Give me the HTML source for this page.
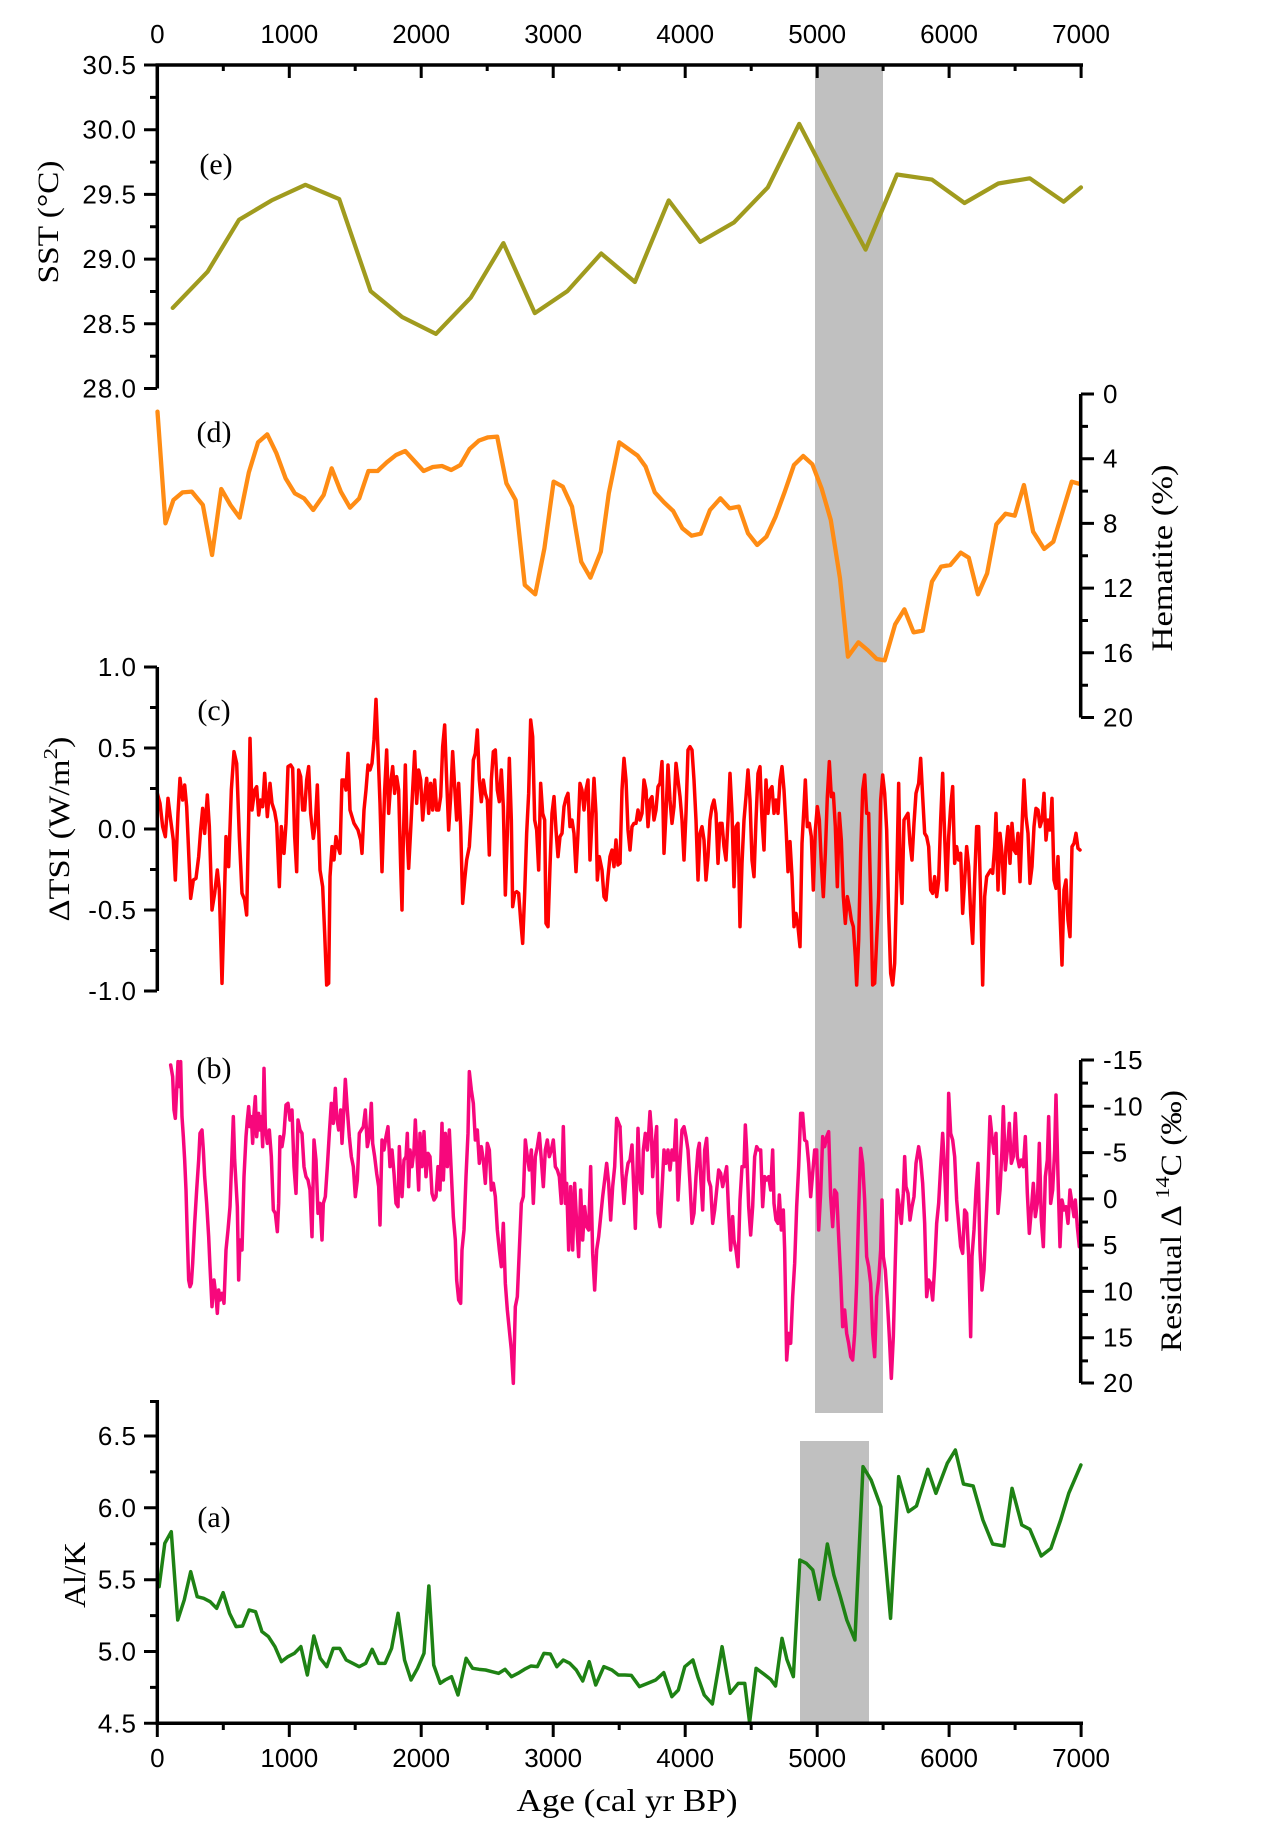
<!DOCTYPE html>
<html><head><meta charset="utf-8"><style>
html,body{margin:0;padding:0;background:#fff;}
svg{display:block;}
.tk{font-family:"Liberation Sans",Arial,sans-serif;font-size:26px;fill:#000;}
.sp{letter-spacing:1px;}
.tt{font-family:"Liberation Serif","Times New Roman",serif;fill:#000;}
.ax{stroke:#000;stroke-width:3.5;fill:none;stroke-linecap:butt;}
.tc{stroke:#000;stroke-width:3;fill:none;}
.ln{fill:none;stroke-linejoin:round;stroke-linecap:round;}
</style></head><body>
<svg width="1269" height="1828" viewBox="0 0 1269 1828" xmlns="http://www.w3.org/2000/svg">
<rect width="1269" height="1828" fill="#fff"/>
<!-- gray bands -->
<rect x="815" y="65" width="68" height="1348" fill="#c0c0c0"/>
<rect x="800" y="1441" width="69" height="282" fill="#c0c0c0"/>

<!-- (e) SST -->
<polyline class="ln" stroke="#a09b1e" stroke-width="4.2" points="172.7,307.9 207.6,271.7 239.0,219.8 271.6,200.4 305.4,184.8 339.2,199.1 370.6,291.1 402.1,317.0 435.9,333.9 470.8,297.6 503.4,243.1 534.8,313.1 567.4,291.1 601.2,253.5 634.9,282.0 668.7,200.4 700.1,241.9 734.0,222.4 767.8,187.4 799.2,123.9 834.2,191.3 865.6,249.6 897.0,174.5 931.9,179.6 964.5,203.0 998.3,183.5 1029.8,178.3 1063.6,201.7 1081,187.4"/>

<!-- (d) Hematite -->
<g transform="translate(148.9,385) scale(0.6132,0.33333)">
<polyline class="ln" stroke="#ff8c14" stroke-width="4.3" vector-effect="non-scaling-stroke" points="14,80 27,415 40,345 55,322 70,320 88,360 103,510 118,312 133,360 148,398 163,262 178,172 193,148 208,205 223,280 238,325 253,340 268,375 285,330 298,250 313,320 328,368 343,340 358,258 373,258 388,232 403,210 418,198 433,228 448,258 463,246 478,243 493,255 508,240 523,192 538,167 553,157 568,155 583,295 598,345 613,600 630,628 645,490 660,290 675,305 690,365 705,530 720,578 737,500 750,325 767,172 782,192 797,212 810,245 825,322 840,352 855,378 870,430 885,452 900,446 915,375 932,340 947,370 962,365 977,445 992,480 1007,455 1022,395 1037,320 1052,240 1067,213 1082,238 1097,310 1112,405 1127,580 1140,815 1157,772 1172,795 1187,822 1200,826 1217,718 1232,673 1247,742 1262,737 1277,590 1292,545 1307,540 1324,503 1337,518 1352,628 1367,565 1382,418 1397,386 1412,392 1427,300 1442,440 1460,492 1475,470 1490,380 1505,290 1518,297"/>
</g>

<!-- (c) TSI -->
<g transform="translate(150,680) scale(0.33333)">
<polyline class="ln" stroke="#ff0000" stroke-width="3.5" vector-effect="non-scaling-stroke" points="22,340 30,370 38,440 46,470 54,355 62,420 70,480 76,600 84,400 90,295 98,360 104,315 110,380 114,470 122,655 130,600 138,595 146,530 152,450 158,385 164,460 172,345 178,440 186,690 194,640 202,570 208,630 216,910 222,700 228,470 236,560 244,330 252,215 260,250 268,470 276,640 284,660 290,705 296,420 300,175 306,390 314,330 320,320 326,405 332,360 338,380 344,280 352,410 360,310 366,370 374,395 380,430 388,620 394,440 402,520 408,430 414,260 422,255 428,265 434,470 440,575 446,270 452,290 458,390 464,390 470,300 476,260 482,400 490,475 496,430 502,315 510,570 518,620 524,760 530,915 536,910 540,590 546,500 552,540 558,470 564,500 570,520 576,300 582,300 588,330 594,220 600,390 606,410 612,430 618,440 624,450 632,480 636,520 642,390 648,330 654,255 660,270 666,250 672,180 678,58 684,210 690,370 696,575 704,330 710,210 716,400 722,310 728,260 734,340 740,290 746,330 752,560 756,690 760,480 766,255 770,440 776,565 782,450 788,330 794,215 800,370 806,270 812,300 818,420 824,350 830,295 836,400 842,310 848,390 854,300 860,390 866,390 872,350 878,200 884,135 890,300 896,450 902,350 908,215 914,320 920,420 926,310 932,440 938,670 944,600 950,540 958,500 964,400 970,240 976,220 982,150 988,300 994,365 1000,300 1006,340 1012,360 1018,525 1024,300 1030,215 1036,210 1042,330 1048,365 1054,270 1060,380 1066,645 1072,460 1078,235 1084,420 1088,680 1094,640 1100,635 1106,640 1112,720 1118,790 1124,640 1130,460 1136,340 1142,120 1148,170 1154,420 1160,450 1166,570 1172,310 1178,400 1184,420 1188,730 1194,740 1200,560 1206,400 1212,350 1218,450 1224,530 1230,470 1236,460 1242,380 1248,355 1254,340 1260,440 1266,420 1272,460 1278,575 1284,460 1290,310 1296,330 1302,390 1308,330 1314,300 1320,540 1326,420 1332,295 1338,400 1342,600 1348,530 1356,570 1362,650 1368,660 1374,590 1380,530 1386,510 1392,560 1398,480 1404,555 1410,548"/>
</g>
<g transform="translate(620,680) scale(0.33333)">
<polyline class="ln" stroke="#ff0000" stroke-width="3.5" vector-effect="non-scaling-stroke" points="0,550 6,330 12,235 18,300 24,450 30,510 36,440 42,430 48,430 54,390 60,420 66,400 72,300 78,330 84,440 90,360 96,350 102,420 108,390 114,320 120,310 126,245 132,520 138,400 144,255 150,360 156,430 162,380 168,250 174,300 180,350 186,420 192,540 198,400 204,210 210,200 216,210 222,300 228,420 234,600 240,460 246,440 252,480 258,600 264,530 270,420 276,380 282,360 288,400 294,550 300,430 306,430 312,500 318,540 324,420 330,280 336,400 342,620 348,440 354,430 360,740 366,550 372,420 378,350 384,270 390,360 396,540 402,590 408,420 414,280 420,260 426,420 432,510 438,300 444,400 450,330 456,320 462,400 468,360 474,400 480,300 486,260 492,330 498,440 504,575 510,485 516,590 522,740 528,700 534,740 540,800 546,490 552,380 556,300 562,440 568,430 574,470 580,630 586,450 592,380 598,420 604,550 610,650 616,520 622,350 628,245 634,350 640,340 646,440 652,620 658,400 664,480 670,650 676,730 682,650 688,680 694,720 700,740 706,830 710,915 716,780 722,520 728,330 734,285 740,400 746,400 752,650 758,915 764,910 770,780 776,650 782,360 788,285 794,340 800,450 806,700 812,880 818,915 824,850 830,610 836,310 840,540 846,670 852,420 858,410 864,400 870,490 876,540 882,430 888,340 896,310 902,235 908,350 914,460 920,470 926,500 932,630 938,640 944,590 950,650 956,600 962,420 968,280 974,470 980,630 986,470 992,380 998,320 1004,550 1010,500 1016,540 1022,520 1028,700 1034,600 1040,500 1046,560 1052,700 1058,790 1064,600 1070,440 1076,440 1082,650 1088,915 1094,650 1100,590 1106,580 1112,570 1118,580 1124,500 1128,400 1134,630 1140,460 1146,520 1152,640 1158,500 1164,440 1170,550 1176,430 1182,510 1188,520 1194,460 1200,605 1206,440 1212,300 1218,410 1224,460 1230,610 1236,560 1242,440 1248,385 1254,390 1260,440 1266,420 1272,340 1278,480 1284,420 1290,450 1296,355 1302,600 1308,625 1314,530 1320,700 1326,855 1332,630 1338,600 1344,720 1350,770 1356,500 1362,490 1368,460 1374,505 1380,510"/>
</g>

<!-- (b) D14C -->
<g transform="translate(150,1050) scale(0.33333)">
<polyline class="ln" stroke="#f7077c" stroke-width="3.5" vector-effect="non-scaling-stroke" points="62,45 68,80 72,180 76,205 80,120 84,35 88,110 92,35 96,200 100,260 104,330 108,420 112,560 116,690 120,710 124,700 128,640 134,520 140,420 146,330 150,250 156,240 160,300 164,380 170,460 176,560 180,650 186,770 192,690 198,740 202,790 206,720 210,750 216,730 222,760 228,600 234,540 240,470 246,310 250,200 254,330 258,400 262,470 266,690 270,570 276,600 282,380 288,260 292,210 296,170 300,230 304,200 308,280 312,190 316,140 320,260 326,190 330,240 334,200 338,290 342,55 346,230 352,280 358,240 364,320 370,480 376,490 382,545 386,460 390,260 396,290 402,250 408,165 414,160 420,210 426,180 432,350 438,430 444,210 450,240 456,250 462,350 468,380 474,390 480,420 486,560 492,270 498,330 504,490 510,460 516,570 520,460 526,440 532,350 538,250 544,160 550,220 556,115 560,200 566,240 572,180 576,280 580,210 586,88 592,180 598,260 604,320 610,350 616,440 622,390 628,250 634,240 640,230 646,180 652,290 658,260 664,160 668,280 674,320 680,370 686,410 690,525 696,270 702,300 708,260 714,230 720,350 726,300 732,370 738,460 744,470 748,290 752,380 756,440 762,330 768,320 772,250 776,410 780,300 786,350 792,300 796,210 800,300 806,420 810,250 816,350 822,245 828,380 834,310 840,320 846,430 852,450 858,440 864,350 870,420 876,220 880,390 886,250 892,350 898,240 904,370 910,500 916,570 920,690 926,750 932,760 936,600 942,540 948,380 954,250 958,65 964,120 970,160 976,270 982,240 988,340 994,290 1000,330 1006,400 1012,280 1018,300 1024,420 1030,400 1036,440 1042,540 1048,600 1054,650 1060,520 1066,700 1072,780 1078,840 1084,900 1090,1000 1096,770 1102,740 1108,600 1114,460 1120,440 1126,270 1132,320 1138,360 1144,300 1150,460 1156,320 1162,290 1168,250 1174,330 1180,410 1186,300 1192,270 1198,320 1204,300 1210,270 1216,350 1222,360 1228,380 1234,460 1240,230 1246,460 1250,400 1256,600 1262,410 1268,600 1274,400 1280,520 1286,620 1292,420 1298,570 1304,470 1310,530 1316,540 1322,350 1328,610 1334,720 1340,600 1346,560 1352,500 1358,440 1364,390 1370,340 1376,400 1382,510 1388,410 1394,350 1400,205 1410,230"/>
</g>
<g transform="translate(620,1050) scale(0.33333)">
<polyline class="ln" stroke="#f7077c" stroke-width="3.5" vector-effect="non-scaling-stroke" points="0,230 6,370 12,460 18,380 24,340 30,330 36,285 42,430 46,535 50,400 54,235 58,360 62,420 66,430 70,300 76,250 82,300 86,250 90,185 94,240 98,380 104,290 110,230 114,490 120,530 126,420 132,300 138,340 144,300 150,360 156,300 162,330 168,210 174,450 180,340 186,240 192,230 198,260 204,300 210,400 216,520 222,490 228,380 234,300 238,280 242,380 248,480 254,300 260,265 266,390 272,410 278,520 284,480 290,420 296,360 302,370 308,410 314,380 320,350 326,490 332,600 338,500 342,570 348,600 354,650 360,450 366,350 372,350 376,225 380,300 386,470 392,555 398,470 404,320 410,290 416,300 422,300 428,470 434,380 440,390 446,380 452,420 458,300 462,460 468,510 474,520 478,435 484,540 490,480 494,600 500,930 506,850 512,880 518,740 524,640 530,470 536,350 542,190 548,190 554,270 560,275 566,340 572,440 578,370 584,300 590,300 596,540 602,430 608,260 614,290 620,260 626,245 632,440 638,530 644,420 650,430 656,560 662,680 668,830 674,780 680,850 686,880 692,920 698,930 704,850 710,700 716,480 722,295 728,340 734,450 740,620 746,650 752,700 758,850 764,920 770,740 776,690 782,600 786,450 790,620 796,660 802,750 808,860 814,985 820,860 826,630 832,420 838,470 844,520 850,430 854,320 858,410 864,430 870,510 876,470 882,440 888,340 896,290 902,330 908,400 914,520 920,740 926,690 932,700 938,750 944,650 950,520 956,460 962,350 968,250 974,360 980,510 986,130 992,250 998,270 1004,320 1010,450 1016,520 1022,590 1028,610 1034,480 1040,490 1046,620 1052,860 1056,620 1062,540 1068,420 1074,340 1080,600 1086,720 1092,660 1098,520 1104,380 1110,200 1116,260 1122,310 1128,250 1134,490 1140,420 1146,300 1150,170 1156,360 1162,300 1168,220 1174,340 1180,320 1186,190 1192,320 1198,350 1204,330 1210,350 1216,260 1222,430 1228,550 1234,480 1240,400 1246,500 1252,460 1258,280 1264,510 1270,590 1276,380 1282,330 1286,200 1292,460 1298,420 1304,300 1308,135 1314,380 1320,590 1326,450 1332,480 1338,470 1344,520 1350,420 1356,460 1362,500 1366,450 1372,530 1378,590 1382,560"/>
</g>

<!-- (a) Al/K -->
<g transform="translate(-0.45,1400) scale(0.81,0.33333)">
<polyline class="ln" stroke="#1e8214" stroke-width="3.5" vector-effect="non-scaling-stroke" points="197,560 204,430 212,395 220,660 228,600 236,515 244,590 252,595 260,605 268,625 276,578 284,640 292,680 300,678 308,630 316,635 324,695 332,710 340,740 348,785 356,770 364,760 372,740 380,825 388,708 396,775 404,800 412,745 420,745 428,780 436,790 444,800 452,790 460,748 468,790 476,790 484,745 492,640 500,780 508,840 516,805 524,760 530,558 536,795 544,850 550,840 558,830 566,885 576,775 584,805 592,808 600,810 608,815 616,820 624,808 632,830 640,820 648,808 656,798 664,800 672,760 680,762 688,800 696,780 704,790 712,810 720,843 728,785 736,855 746,800 756,810 764,825 772,825 780,826 790,860 800,850 810,840 820,818 830,890 838,870 846,800 856,780 862,830 870,885 880,912 892,740 902,880 912,850 920,850 926,968 934,805 944,823 952,838 958,858 966,715 972,778 980,830 988,480 996,490 1004,510 1012,598 1022,432 1030,525 1038,590 1046,660 1056,720 1066,200 1076,240 1088,320 1100,655 1110,230 1122,335 1132,318 1146,208 1156,280 1170,190 1180,150 1190,252 1202,258 1214,360 1226,432 1240,438 1250,265 1262,375 1272,388 1286,468 1298,445 1310,360 1320,280 1335,195"/>
</g>

<!-- axes -->
<path class="ax" d="M155.5,65 H1083"/>
<path class="tc" d="M157.3,65V78 M289.3,65V78 M421.2,65V78 M553.2,65V78 M685.2,65V78 M817.2,65V78 M949.1,65V78 M1081.1,65V78 M223.3,65V71 M355.2,65V71 M487.2,65V71 M619.2,65V71 M751.2,65V71 M883.1,65V71 M1015.1,65V71"/>
<path class="ax" d="M155.5,1723.3 H1083"/>
<path class="tc" d="M157.3,1723V1737 M289.3,1723V1737 M421.2,1723V1737 M553.2,1723V1737 M685.2,1723V1737 M817.2,1723V1737 M949.1,1723V1737 M1081.1,1723V1737 M223.3,1723V1730 M355.2,1723V1730 M487.2,1723V1730 M619.2,1723V1730 M751.2,1723V1730 M883.1,1723V1730 M1015.1,1723V1730"/>
<path class="ax" d="M157.3,65 V388.5"/>
<path class="tc" d="M157,65H144 M157,129.7H144 M157,194.4H144 M157,259.1H144 M157,323.8H144 M157,388.5H144 M157,97.4H150 M157,162.1H150 M157,226.8H150 M157,291.5H150 M157,356.2H150"/>
<path class="ax" d="M157.3,667 V991"/>
<path class="tc" d="M157,667H144 M157,748H144 M157,829H144 M157,910H144 M157,991H144 M157,707.5H150 M157,788.5H150 M157,869.5H150 M157,950.5H150"/>
<path class="ax" d="M157.3,1400 V1723.3"/>
<path class="tc" d="M157,1436H144 M157,1507.8H144 M157,1579.7H144 M157,1651.5H144 M157,1723.3H144 M157,1401.5H150 M157,1471.9H150 M157,1543.8H150 M157,1615.6H150 M157,1687.4H150"/>
<path class="ax" d="M1080.7,394 V717.5"/>
<path class="tc" d="M1081,394H1094 M1081,458.7H1094 M1081,523.4H1094 M1081,588.1H1094 M1081,652.8H1094 M1081,717.5H1094 M1081,426.4H1088 M1081,491.1H1088 M1081,555.8H1088 M1081,620.5H1088 M1081,685.2H1088"/>
<path class="ax" d="M1080.7,1060 V1383"/>
<path class="tc" d="M1081,1060H1094 M1081,1106.3H1094 M1081,1152.6H1094 M1081,1198.9H1094 M1081,1245.1H1094 M1081,1291.4H1094 M1081,1337.7H1094 M1081,1383H1094 M1081,1083.1H1088 M1081,1129.4H1088 M1081,1175.7H1088 M1081,1222H1088 M1081,1268.3H1088 M1081,1314.6H1088 M1081,1360.9H1088"/>

<!-- tick labels -->
<g class="tk" text-anchor="middle">
<text x="157.3" y="43">0</text><text x="289.3" y="43">1000</text><text x="421.2" y="43">2000</text><text x="553.2" y="43">3000</text><text x="685.2" y="43">4000</text><text x="817.2" y="43">5000</text><text x="949.1" y="43">6000</text><text x="1081.1" y="43">7000</text>
<text x="157.3" y="1767">0</text><text x="289.3" y="1767">1000</text><text x="421.2" y="1767">2000</text><text x="553.2" y="1767">3000</text><text x="685.2" y="1767">4000</text><text x="817.2" y="1767">5000</text><text x="949.1" y="1767">6000</text><text x="1081.1" y="1767">7000</text>
</g>
<g class="tk sp" text-anchor="end">
<text x="137" y="74">30.5</text><text x="137" y="138.7">30.0</text><text x="137" y="203.4">29.5</text><text x="137" y="268.1">29.0</text><text x="137" y="332.8">28.5</text><text x="137" y="397.5">28.0</text>
<text x="137" y="676">1.0</text><text x="137" y="757">0.5</text><text x="137" y="838">0.0</text><text x="137" y="919">-0.5</text><text x="137" y="1000">-1.0</text>
<text x="137" y="1445">6.5</text><text x="137" y="1516.8">6.0</text><text x="137" y="1588.7">5.5</text><text x="137" y="1660.5">5.0</text><text x="137" y="1732.3">4.5</text>
</g>
<g class="tk sp" text-anchor="start">
<text x="1103" y="403">0</text><text x="1103" y="467.7">4</text><text x="1103" y="532.4">8</text><text x="1103" y="597.1">12</text><text x="1103" y="661.8">16</text><text x="1103" y="726.5">20</text>
<text x="1103" y="1069">-15</text><text x="1103" y="1115.3">-10</text><text x="1103" y="1161.6">-5</text><text x="1103" y="1207.9">0</text><text x="1103" y="1254.1">5</text><text x="1103" y="1300.4">10</text><text x="1103" y="1346.7">15</text><text x="1103" y="1392">20</text>
</g>

<!-- panel letters -->
<g class="tt" font-size="30" text-anchor="middle">
<text x="216" y="174">(e)</text>
<text x="214" y="442">(d)</text>
<text x="214" y="720">(c)</text>
<text x="214" y="1078">(b)</text>
<text x="214" y="1527">(a)</text>
</g>

<!-- axis titles -->
<text class="tt" font-size="30" text-anchor="middle" transform="translate(58,222) rotate(-90)" textLength="123" lengthAdjust="spacingAndGlyphs">SST (°C)</text>
<text class="tt" font-size="30" text-anchor="middle" transform="translate(1172,558) rotate(-90)" textLength="187" lengthAdjust="spacingAndGlyphs">Hematite (%)</text>
<text class="tt" font-size="30" text-anchor="middle" transform="translate(69,829) rotate(-90)" textLength="185" lengthAdjust="spacingAndGlyphs">ΔTSI (W/m<tspan font-size="20" dy="-12">2</tspan><tspan dy="12">)</tspan></text>
<text class="tt" font-size="30" text-anchor="middle" transform="translate(1181,1221) rotate(-90)" textLength="262" lengthAdjust="spacingAndGlyphs">Residual Δ <tspan font-size="20" dy="-12">14</tspan><tspan dy="12">C (‰)</tspan></text>
<text class="tt" font-size="31" text-anchor="middle" transform="translate(85,1575) rotate(-90)" textLength="66" lengthAdjust="spacingAndGlyphs">Al/K</text>
<text class="tt" font-size="32" text-anchor="middle" x="627" y="1811" textLength="221" lengthAdjust="spacingAndGlyphs">Age (cal yr BP)</text>
</svg>
</body></html>
